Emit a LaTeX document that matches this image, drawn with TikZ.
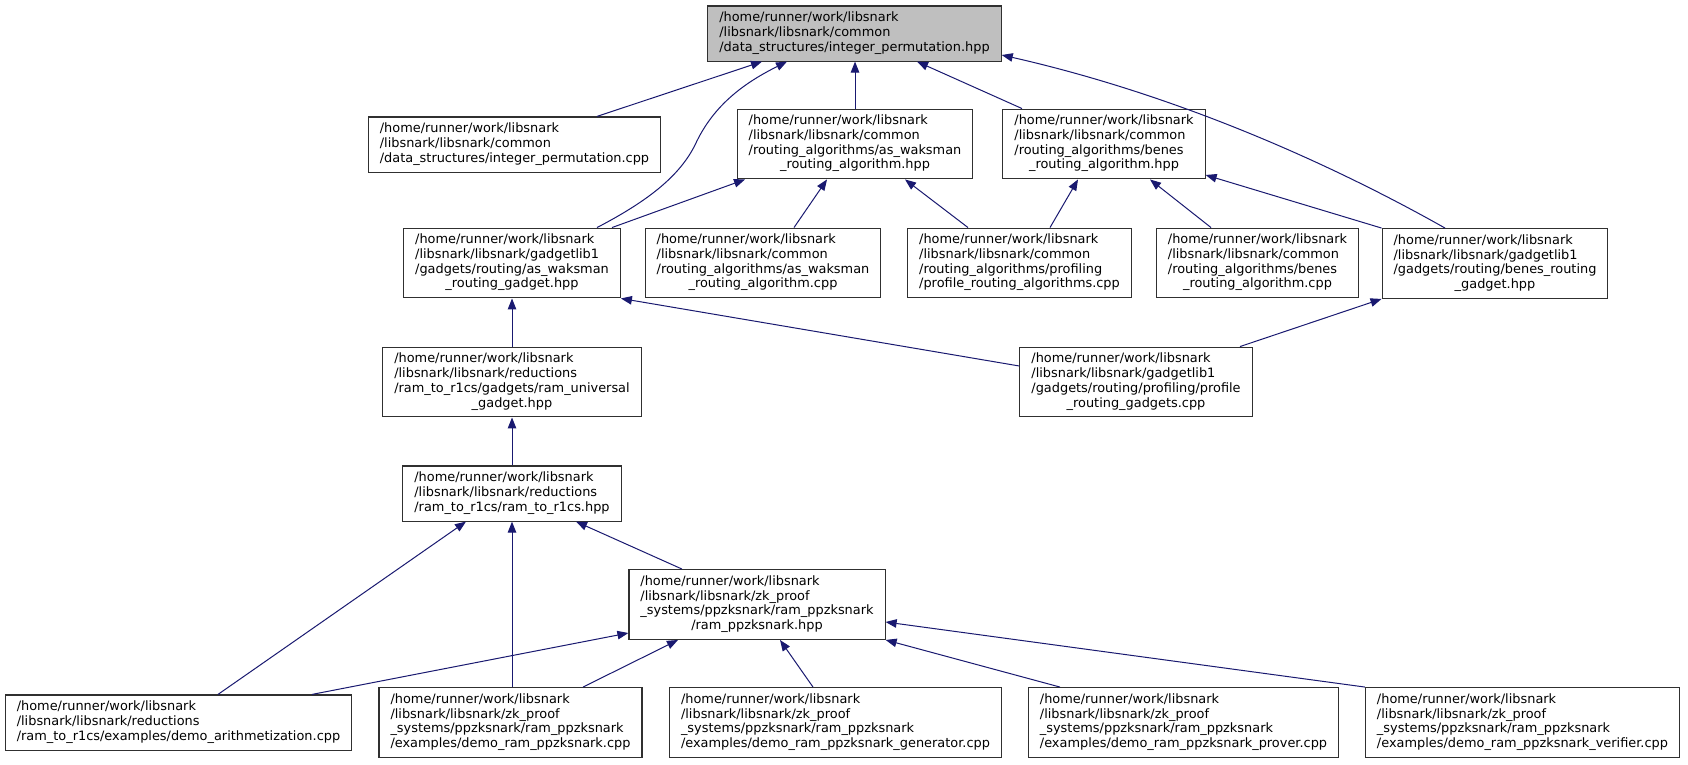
\documentclass[tikz,border=0pt]{standalone}
\usepackage{fontspec}
\setmainfont{DejaVu Sans}
\usetikzlibrary{arrows.meta}
\definecolor{edgeblue}{RGB}{25,25,112}
\definecolor{boxline}{RGB}{48,48,48}
\definecolor{rootfill}{RGB}{191,191,191}
\newcommand{\lastln}[1]{\multicolumn{1}{@{}c@{}}{#1}}
\newcommand{\lbl}[1]{\begin{tabular}{@{}l@{}}#1\end{tabular}}
\begin{document}
\begin{tikzpicture}[x=1pt,y=-1pt,
  file/.style={draw=boxline, line width=1.1pt, fill=white, inner xsep=11.5pt, inner ysep=5.5pt, font=\fontsize{12.9}{14.7}\selectfont},
  root/.style={file, fill=rootfill},
  dep/.style={draw=edgeblue, line width=1pt, -{Triangle[length=11pt,width=8.5pt]}}]
\fill[white] (0,0) rectangle (1688,764);
\useasboundingbox (0,0) rectangle (1688,764);

\node[root] (T) at (854.5,33.5) {\lbl{/home/runner/work/libsnark\\/libsnark/libsnark/common\\\lastln{/data\_structures/integer\_permutation.hpp}}};

\node[file] (A) at (514.5,144.5) {\lbl{/home/runner/work/libsnark\\/libsnark/libsnark/common\\\lastln{/data\_structures/integer\_permutation.cpp}}};
\node[file] (B) at (855,144) {\lbl{/home/runner/work/libsnark\\/libsnark/libsnark/common\\/routing\_algorithms/as\_waksman\\\lastln{\_routing\_algorithm.hpp}}};
\node[file] (C) at (1104,144) {\lbl{/home/runner/work/libsnark\\/libsnark/libsnark/common\\/routing\_algorithms/benes\\\lastln{\_routing\_algorithm.hpp}}};

\node[file] (D) at (512,263) {\lbl{/home/runner/work/libsnark\\/libsnark/libsnark/gadgetlib1\\/gadgets/routing/as\_waksman\\\lastln{\_routing\_gadget.hpp}}};
\node[file] (E) at (763,263) {\lbl{/home/runner/work/libsnark\\/libsnark/libsnark/common\\/routing\_algorithms/as\_waksman\\\lastln{\_routing\_algorithm.cpp}}};
\node[file] (F) at (1019.5,263) {\lbl{/home/runner/work/libsnark\\/libsnark/libsnark/common\\/routing\_algorithms/profiling\\\lastln{/profile\_routing\_algorithms.cpp}}};
\node[file] (G) at (1257.5,263) {\lbl{/home/runner/work/libsnark\\/libsnark/libsnark/common\\/routing\_algorithms/benes\\\lastln{\_routing\_algorithm.cpp}}};
\node[file] (H) at (1495,263.5) {\lbl{/home/runner/work/libsnark\\/libsnark/libsnark/gadgetlib1\\/gadgets/routing/benes\_routing\\\lastln{\_gadget.hpp}}};

\node[file] (I) at (512,382) {\lbl{/home/runner/work/libsnark\\/libsnark/libsnark/reductions\\/ram\_to\_r1cs/gadgets/ram\_universal\\\lastln{\_gadget.hpp}}};
\node[file] (J) at (1136,382) {\lbl{/home/runner/work/libsnark\\/libsnark/libsnark/gadgetlib1\\/gadgets/routing/profiling/profile\\\lastln{\_routing\_gadgets.cpp}}};

\node[file] (K) at (512,493.5) {\lbl{/home/runner/work/libsnark\\/libsnark/libsnark/reductions\\\lastln{/ram\_to\_r1cs/ram\_to\_r1cs.hpp}}};

\node[file] (L) at (757,604.5) {\lbl{/home/runner/work/libsnark\\/libsnark/libsnark/zk\_proof\\\_systems/ppzksnark/ram\_ppzksnark\\\lastln{/ram\_ppzksnark.hpp}}};

\node[file] (M1) at (178.5,722.5) {\lbl{/home/runner/work/libsnark\\/libsnark/libsnark/reductions\\\lastln{/ram\_to\_r1cs/examples/demo\_arithmetization.cpp}}};
\node[file] (M2) at (510.5,722.5) {\lbl{/home/runner/work/libsnark\\/libsnark/libsnark/zk\_proof\\\_systems/ppzksnark/ram\_ppzksnark\\\lastln{/examples/demo\_ram\_ppzksnark.cpp}}};
\node[file] (M3) at (835.5,722.5) {\lbl{/home/runner/work/libsnark\\/libsnark/libsnark/zk\_proof\\\_systems/ppzksnark/ram\_ppzksnark\\\lastln{/examples/demo\_ram\_ppzksnark\_generator.cpp}}};
\node[file] (M4) at (1183.5,722.5) {\lbl{/home/runner/work/libsnark\\/libsnark/libsnark/zk\_proof\\\_systems/ppzksnark/ram\_ppzksnark\\\lastln{/examples/demo\_ram\_ppzksnark\_prover.cpp}}};
\node[file] (M5) at (1522.5,722.5) {\lbl{/home/runner/work/libsnark\\/libsnark/libsnark/zk\_proof\\\_systems/ppzksnark/ram\_ppzksnark\\\lastln{/examples/demo\_ram\_ppzksnark\_verifier.cpp}}};

\draw[dep] ([xshift=82.5pt]A.north) -- ([xshift=-92.5pt]T.south);
\draw[dep] ([xshift=85pt]D.north) .. controls (650,200) and (680,175) .. (695,145) .. controls (712,108) and (740,85) .. ([xshift=-67.5pt]T.south);
\draw[dep] (B.north) -- (B.north |- T.south);
\draw[dep] ([xshift=-82pt]C.north) -- ([xshift=62.5pt]T.south);
\draw[dep] ([xshift=-50pt]H.north) .. controls (1360,180) and (1200,100) .. ([yshift=-21.5pt]T.east);
\draw[dep] ([xshift=100pt]D.north) -- ([xshift=-110pt]B.south);
\draw[dep] ([xshift=31pt]E.north) -- ([xshift=-28pt]B.south);
\draw[dep] ([xshift=-51.5pt]F.north) -- ([xshift=50pt]B.south);
\draw[dep] ([xshift=30.5pt]F.north) -- ([xshift=-26pt]C.south);
\draw[dep] ([xshift=-46.5pt]G.north) -- ([xshift=46pt]C.south);
\draw[dep] (H.north west) -- ([yshift=-31pt]C.east);
\draw[dep] ([yshift=16pt]J.west) -- (D.south east);
\draw[dep] ([xshift=104pt]J.north) -- (H.south west);
\draw[dep] (I.north) -- (D.south);
\draw[dep] (K.north) -- (I.south);
\draw[dep] ([xshift=39.5pt]M1.north) -- ([xshift=-46pt]K.south);
\draw[dep] (M2.north -| K.south) -- (K.south);
\draw[dep] ([xshift=-75pt]L.north) -- ([xshift=64pt]K.south);
\draw[dep] ([xshift=133.5pt]M1.north) -- ([yshift=-28.5pt]L.west);
\draw[dep] ([xshift=72.5pt]M2.north) -- ([xshift=-79pt]L.south);
\draw[dep] ([xshift=-22.5pt]M3.north) -- ([xshift=23pt]L.south);
\draw[dep] ([xshift=-123.5pt]M4.north) -- (L.south east);
\draw[dep] (M5.north west) -- ([yshift=-17.5pt]L.east);
\end{tikzpicture}
\end{document}
